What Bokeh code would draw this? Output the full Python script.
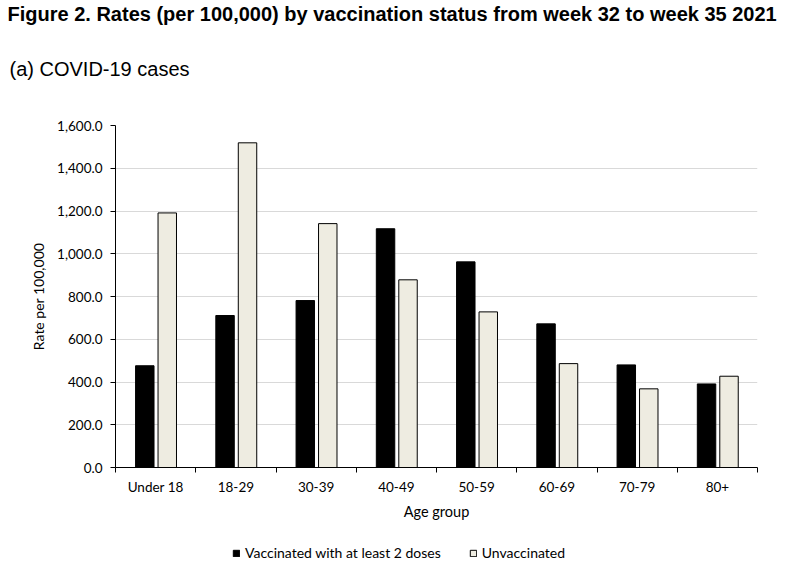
from bokeh.plotting import figure
from bokeh.layouts import column
from bokeh.models import (ColumnDataSource, Range1d, FixedTicker, NumeralTickFormatter,
                          Title, Legend, LegendItem)
from bokeh.transform import dodge
from bokeh.embed import file_html
from bokeh.resources import INLINE

title_text = "Figure 2. Rates (per 100,000) by vaccination status from week 32 to week 35 2021"
subtitle_text = "(a) COVID-19 cases"
ages = ["Under 18", "18-29", "30-39", "40-49", "50-59", "60-69", "70-79", "80+"]
vaccinated = [476, 711, 781, 1117, 962, 672, 480, 391]
unvaccinated = [1191, 1519, 1141, 878, 728, 486, 368, 427]
y_ticks = [0, 200, 400, 600, 800, 1000, 1200, 1400, 1600]
series_names = ["Vaccinated with at least 2 doses", "Unvaccinated"]

pos = [i + 0.5 for i in range(len(ages))]
bounds = list(range(len(ages) + 1))
src = ColumnDataSource(dict(pos=pos, vacc=vaccinated, unvacc=unvaccinated))

FONT = "Lato"
W = 800
VACC_FILL, UNVACC_FILL = "black", "#eeece1"

# ---------- main chart ----------
p = figure(width=W, height=530, x_range=Range1d(0, len(ages)), y_range=Range1d(0, 1600),
           output_backend="svg", toolbar_location=None,
           min_border_left=115, min_border_right=43, min_border_top=125, min_border_bottom=63)
p.outline_line_color = None

p.vbar(x=dodge('pos', -0.135), top='vacc', width=0.23, source=src,
       fill_color=VACC_FILL, line_color='black', line_width=1)
p.vbar(x=dodge('pos', 0.145), top='unvacc', width=0.23, source=src,
       fill_color=UNVACC_FILL, line_color='black', line_width=1)

p.xaxis.ticker = FixedTicker(ticks=pos, minor_ticks=bounds)
p.xaxis.major_label_overrides = {pos[i]: ages[i] for i in range(len(ages))}
p.xaxis.major_tick_line_color = None
p.xaxis.major_tick_out = 0
p.xaxis.major_tick_in = 0
p.xaxis.minor_tick_out = 5
p.xaxis.minor_tick_in = 0
p.xaxis.minor_tick_line_color = 'black'
p.xaxis.axis_line_color = 'black'
p.xaxis.major_label_text_font = FONT
p.xaxis.major_label_text_font_size = "13.5px"
p.xaxis.major_label_text_color = "black"
p.xaxis.major_label_standoff = 6
p.xaxis.axis_label = "Age group"
p.xaxis.axis_label_text_font = FONT
p.xaxis.axis_label_text_font_size = "14.5px"
p.xaxis.axis_label_text_font_style = "normal"
p.xaxis.axis_label_text_color = "black"
p.xaxis.axis_label_standoff = 5
p.xgrid.visible = False

p.yaxis.ticker = FixedTicker(ticks=y_ticks)
p.yaxis.formatter = NumeralTickFormatter(format="0,0.0")
p.yaxis.minor_tick_line_color = None
p.yaxis.major_tick_out = 5
p.yaxis.major_tick_in = 0
p.yaxis.major_tick_line_color = 'black'
p.yaxis.axis_line_color = 'black'
p.yaxis.major_label_text_font = FONT
p.yaxis.major_label_text_font_size = "13.5px"
p.yaxis.major_label_text_color = "black"
p.yaxis.major_label_standoff = 8
p.yaxis.axis_label = "Rate per 100,000"
p.yaxis.axis_label_text_font = FONT
p.yaxis.axis_label_text_font_size = "14px"
p.yaxis.axis_label_text_font_style = "normal"
p.yaxis.axis_label_text_color = "black"
p.yaxis.axis_label_standoff = 7
p.ygrid.grid_line_color = '#d9d9d9'
p.ygrid.grid_line_width = 1

# titles (sub-title sits next to the frame, main title above it)
p.add_layout(Title(text=subtitle_text, text_font="Liberation Sans", text_font_size="20px",
                   text_font_style="normal", text_color="black", align="left",
                   offset=-106, standoff=92), "above")
p.add_layout(Title(text=title_text, text_font="Liberation Sans", text_font_size="20px",
                   text_font_style="bold", text_color="black", align="left",
                   offset=-108, standoff=-30), "above")

# ---------- legend strip (its bars lie outside its view; only the legend shows) ----------
lf = figure(width=W, height=38, x_range=Range1d(0, len(ages)), y_range=Range1d(1700, 1701),
            output_backend="svg", toolbar_location=None,
            x_axis_location=None, y_axis_location=None,
            min_border_left=115, min_border_right=43, min_border_top=0, min_border_bottom=0)
lf.outline_line_color = None
lf.grid.grid_line_color = None
lr1 = lf.vbar(x=dodge('pos', -0.135), top='vacc', width=0.23, source=src,
              fill_color=VACC_FILL, line_color='black', line_width=1)
lr2 = lf.vbar(x=dodge('pos', 0.145), top='unvacc', width=0.23, source=src,
              fill_color=UNVACC_FILL, line_color='black', line_width=1)
legend = Legend(items=[LegendItem(label=series_names[0], renderers=[lr1]),
                       LegendItem(label=series_names[1], renderers=[lr2])],
                orientation="horizontal", location=(117, 7),
                glyph_width=8, glyph_height=8, label_standoff=5, spacing=28,
                label_height=16, label_width=10,
                padding=0, margin=0, border_line_color=None, background_fill_alpha=0,
                label_text_font=FONT, label_text_font_size="14px", label_text_color="black")
lf.add_layout(legend, "center")

layout = column(p, lf, spacing=0)
open("out.html", "w").write(file_html(layout, INLINE))
